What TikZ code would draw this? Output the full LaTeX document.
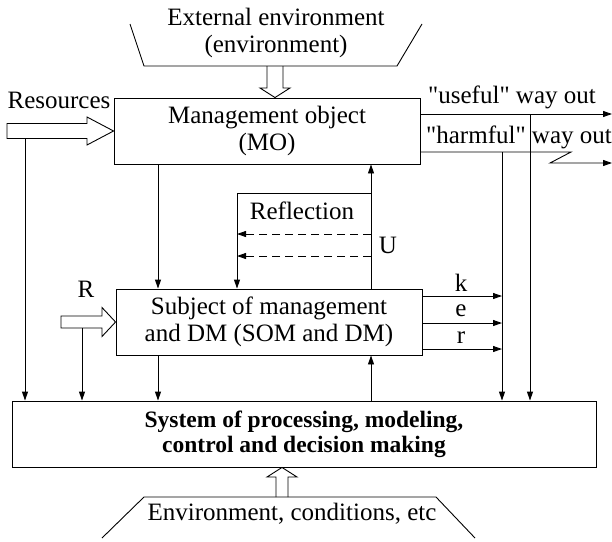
\documentclass[tikz,border=0pt]{standalone}
\usepackage{fontspec}
\setmainfont{Liberation Serif}[Ligatures=TeXOff]
\usetikzlibrary{arrows.meta,calc}
\begin{document}
\begin{tikzpicture}[x=1pt,y=-1pt, line width=0.9pt,
  box/.style={draw, minimum height=66pt, align=center, inner sep=0pt},
  lbl/.style={inner sep=0pt, align=center},
  arr/.style={-{Triangle[length=9pt,width=6pt]}},
  dsh/.style={dash pattern=on 8pt off 5pt},
  font=\fontsize{25}{27}\selectfont]
\useasboundingbox (0,0) rectangle (612,541);

% boxes
\node[box, minimum width=306pt] (mo) at (267,131) {Management object\\(MO)};
\node[box, minimum width=306pt] (som) at (269,322) {Subject of management\\and DM (SOM and DM)};
\node[box, minimum width=584pt, font=\fontsize{23.5}{25}\selectfont\bfseries] (spm) at (304,434) {System of processing, modeling,\\control and decision making};

% external environment
\draw (130,24) -- (144,66) -- (397,66) -- (422,24);
\node[lbl] (ext) at (276,33) {External environment\\(environment)};
\coordinate (extb) at (275,66);
\draw ($(extb)+(-8,0)$) -- ($(extb)+(-8,22)$) -- ($(extb)+(-15,22)$) -- (extb |- mo.north)
  -- ($(extb)+(15,22)$) -- ($(extb)+(8,22)$) -- ($(extb)+(8,0)$);

% environment, conditions
\draw (102,538) -- (144,497) -- (436,497) -- (475,538);
\node[lbl] (env) at (292,514) {Environment, conditions, etc};
\coordinate (envt) at (282,497);
\draw ($(envt)+(-6,0)$) -- ($(envt)+(-6,-20)$) -- ($(envt)+(-15,-20)$) -- (envt |- spm.south)
  -- ($(envt)+(15,-20)$) -- ($(envt)+(6,-20)$) -- ($(envt)+(6,0)$);

% resources
\node[lbl] (reslbl) at (59,100) {Resources};
\coordinate (rest) at (7,131);
\draw ($(rest)+(0,-7.5)$) -- (87,123.5) -- (87,117) -- (mo.west) -- (87,145) -- (87,138.5) -- ($(rest)+(0,7.5)$) -- cycle;
\coordinate (resd) at (25,138.5);
\draw[arr] (resd) -- (resd |- spm.north);

% R
\node[lbl] (rlbl) at (86,289) {R};
\coordinate (rt) at (61,322);
\draw ($(rt)+(0,-6)$) -- (102,316) -- (102,307.5) -- (som.west) -- (102,336.5) -- (102,328) -- ($(rt)+(0,6)$) -- cycle;
\coordinate (rd) at (82,328);
\draw[arr] (rd) -- (rd |- spm.north);

% outputs
\node[lbl] (uselbl) at (512,97) {"useful" way out};
\node[lbl] (harmlbl) at (519,137) {"harmful" way out};
\coordinate (uend) at (612,114);
\draw[arr] (mo.east |- uend) -- (uend);
\coordinate (hz) at (571,152);
\coordinate (hend) at (612,163);
\draw[arr] (mo.east |- hz) -- (hz) -- (550,163) -- (hend);
\coordinate (v1) at (502,152);
\draw[arr] (v1) -- (v1 |- spm.north);
\coordinate (v2) at (530,114);
\draw[arr] (v2) -- (v2 |- spm.north);

% MO <-> SOM
\coordinate (c1) at (158,0);
\coordinate (c2) at (371,0);
\draw[arr] (mo.south -| c1) -- (som.north -| c1);
\draw[arr] (som.north -| c2) -- (mo.south -| c2);
\coordinate (lp) at (237,193);
\draw[arr] (c2 |- lp) -- (lp) -- (lp |- som.north);
\node[lbl] (refl) at (302,211) {Reflection};
\coordinate (d1) at (237,234);
\coordinate (d2) at (237,256);
\draw[arr,dsh] (c2 |- d1) -- (d1);
\draw[arr,dsh] (c2 |- d2) -- (d2);
\node[lbl] (ulbl) at (388,245) {U};

% k e r
\coordinate (k) at (502,296);
\coordinate (e) at (502,323);
\coordinate (r) at (502,349);
\draw[arr] (som.east |- k) -- (k);
\draw[arr] (som.east |- e) -- (e);
\draw[arr] (som.east |- r) -- (r);
\node[lbl] (klbl) at (461,283) {k};
\node[lbl] (elbl) at (461,311) {e};
\node[lbl] (rrlbl) at (461,338) {r};

% SOM <-> SPM
\draw[arr] (som.south -| c1) -- (spm.north -| c1);
\draw[arr] (spm.north -| c2) -- (som.south -| c2);
\end{tikzpicture}
\end{document}
